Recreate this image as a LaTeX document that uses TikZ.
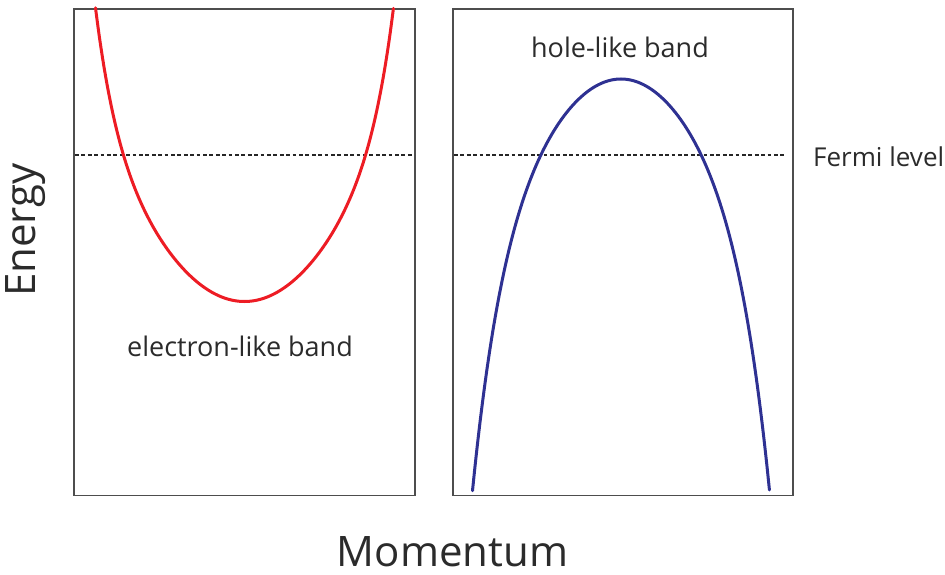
\documentclass[tikz,border=0pt]{standalone}
\usepackage{fontspec}
\setmainfont{Open Sans}
\definecolor{bandred}{HTML}{ED1C24}
\definecolor{bandblue}{HTML}{2E3192}
\definecolor{framegray}{HTML}{4D4D4D}
\definecolor{txtgray}{HTML}{2B2B2B}
\begin{document}
\begin{tikzpicture}[x=1pt,y=-1pt,
  panel/.style={draw=framegray,line width=1.6pt},
  fermi/.style={draw=black!85,line width=1.1pt,dash pattern=on 3.8pt off 2.6pt},
  band/.style={line width=3pt,line cap=round},
  lbl/.style={text=txtgray,font=\fontsize{27}{32}\selectfont,anchor=base,inner sep=0pt},
  axislbl/.style={text=txtgray,font=\fontsize{42}{50}\selectfont,inner sep=0pt}]
\useasboundingbox (0,0) rectangle (945,575);
% panels
\draw[panel] (74,9) rectangle (415,495.5);
\draw[panel] (453,9) rectangle (793,495.5);
% Fermi level
\draw[fermi] (75,155) -- (414,155);
\draw[fermi] (454,155) -- (785,155);
% electron-like band
\draw[band,draw=bandred] plot[domain=-1:1,samples=121,smooth]
  ({244.5+149*\x},{301.5-193*\x*\x-100.7*(\x*\x)^4});
% hole-like band
\draw[band,draw=bandblue] plot[domain=-1:1,samples=121,smooth]
  ({621+148.5*\x},{79+246.9*\x*\x+164.8*(\x*\x)^3});
% labels
\node[lbl] (elec) at (240,356.5) {electron-like band};
\node[lbl] (hole) at (620,58) {hole-like band};
\node[lbl,font=\fontsize{26}{30}\selectfont,anchor=base west] (fermilbl) at (813,166.5) {Fermi level};
\node[axislbl,anchor=base] (mom) at (452.5,566.5) {Momentum};
\node[axislbl,rotate=90,anchor=base] (en) at (35,230) {Energy};
\end{tikzpicture}
\end{document}
